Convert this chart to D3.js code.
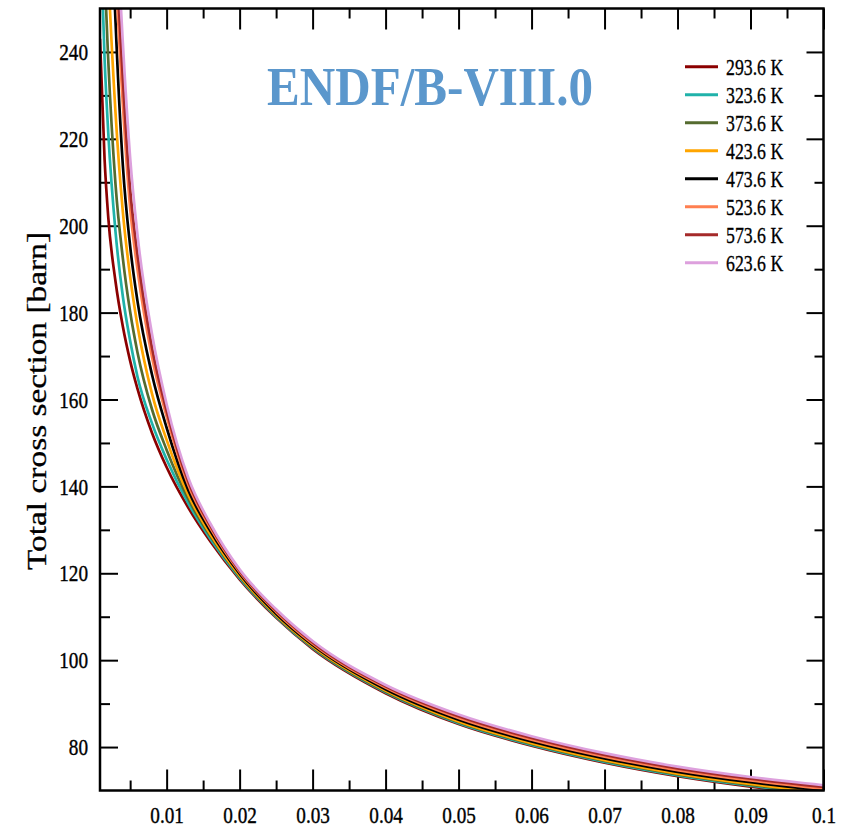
<!DOCTYPE html>
<html>
<head>
<meta charset="utf-8">
<script src="https://cdn.jsdelivr.net/npm/d3@7"></script>
<style>
  body { margin: 0; background: #fff; }
  svg text { font-family: "Liberation Serif", "DejaVu Serif", serif; fill: #000; }
</style>
</head>
<body>
<svg id="chart" width="850" height="828"></svg>
<script>
// energy grid [eV] and total cross sections [barn]
const energy = [0.00087, 0.0015, 0.002, 0.003, 0.004, 0.005, 0.006, 0.008, 0.01, 0.013, 0.016,
                0.02, 0.025, 0.03, 0.04, 0.05, 0.06, 0.07, 0.08, 0.09, 0.1];

const xs293 = [243.0, 215.2, 202.0, 187.1, 176.8, 168.9, 162.5, 152.3, 144.4, 135.0, 127.3, 118.6, 109.8, 102.6, 92.4, 85.3, 80.3, 76.4, 73.3, 70.9, 69.0];
const xs323 = [270.4, 238.3, 221.4, 198.5, 183.7, 173.5, 165.3, 154.5, 146.2, 136.0, 127.9, 118.9, 110.0, 102.8, 92.6, 85.5, 80.5, 76.6, 73.5, 71.1, 69.2];
const xs373 = [297.0, 258.4, 238.1, 209.4, 192.5, 180.2, 170.9, 157.7, 148.4, 137.0, 128.5, 119.2, 110.2, 103.0, 92.8, 85.7, 80.7, 76.8, 73.7, 71.3, 69.4];
const xs423 = [326.0, 282.2, 258.9, 225.9, 203.2, 188.3, 177.1, 161.3, 150.7, 137.9, 129.0, 119.5, 110.4, 103.2, 93.0, 85.9, 80.9, 77.0, 73.9, 71.5, 69.6];
const xs473 = [388.7, 326.3, 293.3, 246.9, 213.9, 195.3, 182.7, 165.7, 153.5, 139.0, 129.7, 119.9, 110.7, 103.5, 93.3, 86.3, 81.3, 77.4, 74.3, 71.9, 70.0];
const xs523 = [397.0, 336.8, 304.9, 259.9, 228.0, 204.1, 190.0, 169.7, 156.1, 140.2, 130.4, 120.3, 111.1, 103.8, 93.7, 86.7, 81.7, 77.8, 74.7, 72.3, 70.4];
const xs573 = [407.7, 345.6, 312.8, 266.6, 233.8, 208.4, 193.5, 171.9, 157.4, 141.0, 130.9, 120.6, 111.4, 104.1, 94.0, 87.1, 82.1, 78.2, 75.1, 72.7, 70.8];
const xs623 = [422.0, 358.0, 324.0, 276.0, 242.1, 215.7, 198.0, 175.0, 158.9, 141.8, 131.4, 120.9, 111.7, 104.4, 94.3, 87.5, 82.5, 78.6, 75.5, 73.1, 71.2];

const labels = ['293.6 K', '323.6 K', '373.6 K', '423.6 K', '473.6 K', '523.6 K', '573.6 K', '623.6 K'];
const colors = ['#8b0000', '#20b2aa', '#556b2f', '#ffa500', '#000000', '#ff7f50', '#a52a2a', '#dda0dd'];
const seriesValues = [xs293, xs323, xs373, xs423, xs473, xs523, xs573, xs623];

const xMajor = [0.01, 0.02, 0.03, 0.04, 0.05, 0.06, 0.07, 0.08, 0.09, 0.1];
const xMinor = [0.005, 0.015, 0.025, 0.035, 0.045, 0.055, 0.065, 0.075, 0.085, 0.095];
const yMajor = [80, 100, 120, 140, 160, 180, 200, 220, 240];
const yMinor = [90, 110, 130, 150, 170, 190, 210, 230];

const svg = d3.select('#chart');
const pl = 100, pr = 823.5, pt = 8.5, pb = 790.5;

const x = d3.scaleLinear().domain([0.00087, 0.1]).range([pl, pr]);
const y = d3.scaleLinear().domain([70, 250]).range([pb, pt]);

// squeeze text horizontally to mimic the narrow serif of the original
const squeeze = (sel, k) => sel.each(function () {
  const w = this.getComputedTextLength();
  d3.select(this).attr('textLength', w * k).attr('lengthAdjust', 'spacingAndGlyphs');
});

const tickStyle = g => {
  g.select('.domain').remove();
  g.selectAll('line').attr('stroke', '#000').attr('stroke-width', 2);
};

// minor ticks
svg.append('g').attr('transform', `translate(0,${pb})`)
  .call(d3.axisBottom(x).tickValues(xMinor).tickSize(-10).tickFormat(''))
  .call(tickStyle);
svg.append('g').attr('transform', `translate(0,${pt})`)
  .call(d3.axisTop(x).tickValues(xMinor).tickSize(-10).tickFormat(''))
  .call(tickStyle);
svg.append('g').attr('transform', `translate(${pl},0)`)
  .call(d3.axisLeft(y).tickValues(yMinor).tickSize(-10).tickFormat(''))
  .call(tickStyle);
svg.append('g').attr('transform', `translate(${pr},0)`)
  .call(d3.axisRight(y).tickValues(yMinor).tickSize(-9).tickFormat(''))
  .call(tickStyle);

// major ticks
const xAxis = svg.append('g').attr('transform', `translate(0,${pb})`)
  .call(d3.axisBottom(x).tickValues(xMajor).tickSize(-21).tickPadding(15)
    .tickFormat(d => String(+d.toFixed(2))))
  .call(tickStyle);
svg.append('g').attr('transform', `translate(0,${pt})`)
  .call(d3.axisTop(x).tickValues(xMajor).tickSize(-21).tickFormat(''))
  .call(tickStyle);
const yAxis = svg.append('g').attr('transform', `translate(${pl},0)`)
  .call(d3.axisLeft(y).tickValues(yMajor).tickSize(-18).tickPadding(12))
  .call(tickStyle);
svg.append('g').attr('transform', `translate(${pr},0)`)
  .call(d3.axisRight(y).tickValues(yMajor).tickSize(-17).tickFormat(''))
  .call(tickStyle);

xAxis.selectAll('text').attr('font-size', 24).attr('font-family', null)
  .attr('stroke', '#000').attr('stroke-width', 0.4).call(squeeze, 0.8);
yAxis.selectAll('text').attr('font-size', 24).attr('font-family', null)
  .attr('stroke', '#000').attr('stroke-width', 0.4).call(squeeze, 0.8);

// curves
svg.append('clipPath').attr('id', 'plot-clip')
  .append('rect').attr('x', pl).attr('y', pt)
  .attr('width', pr - pl).attr('height', pb - pt);

const line = d3.line()
  .x((d, i) => x(energy[i]))
  .y(d => y(d))
  .curve(d3.curveMonotoneX);

svg.append('g').attr('clip-path', 'url(#plot-clip)')
  .selectAll('path')
  .data(seriesValues)
  .join('path')
    .attr('d', line)
    .attr('fill', 'none')
    .attr('stroke', (d, i) => colors[i])
    .attr('stroke-width', 2.7);

// frame
svg.append('rect')
  .attr('x', pl).attr('y', pt)
  .attr('width', pr - pl).attr('height', pb - pt)
  .attr('fill', 'none').attr('stroke', '#000').attr('stroke-width', 2.5);

// legend
const legend = svg.append('g').attr('transform', 'translate(685,66.7)');
const rows = legend.selectAll('g').data(labels).join('g')
  .attr('transform', (d, i) => `translate(0,${i * 28})`);
rows.append('line')
  .attr('x1', 0).attr('x2', 33)
  .attr('stroke', (d, i) => colors[i]).attr('stroke-width', 3);
rows.append('text')
  .attr('x', 41).attr('y', 8.5)
  .attr('font-size', 24)
  .attr('stroke', '#000').attr('stroke-width', 0.35)
  .text(d => d)
  .call(squeeze, 0.74);

// title
svg.append('text')
  .attr('x', 267).attr('y', 105)
  .attr('font-size', 55).attr('font-weight', 'bold')
  .attr('textLength', 326).attr('lengthAdjust', 'spacingAndGlyphs')
  .style('fill', '#5b97cc')
  .text('ENDF/B-VIII.0');

// y axis title
svg.append('text')
  .attr('transform', 'translate(46,401) rotate(-90)')
  .attr('text-anchor', 'middle')
  .attr('font-size', 28)
  .attr('stroke', '#000').attr('stroke-width', 0.3)
  .attr('textLength', 338).attr('lengthAdjust', 'spacingAndGlyphs')
  .text('Total cross section [barn]');
</script>
</body>
</html>
